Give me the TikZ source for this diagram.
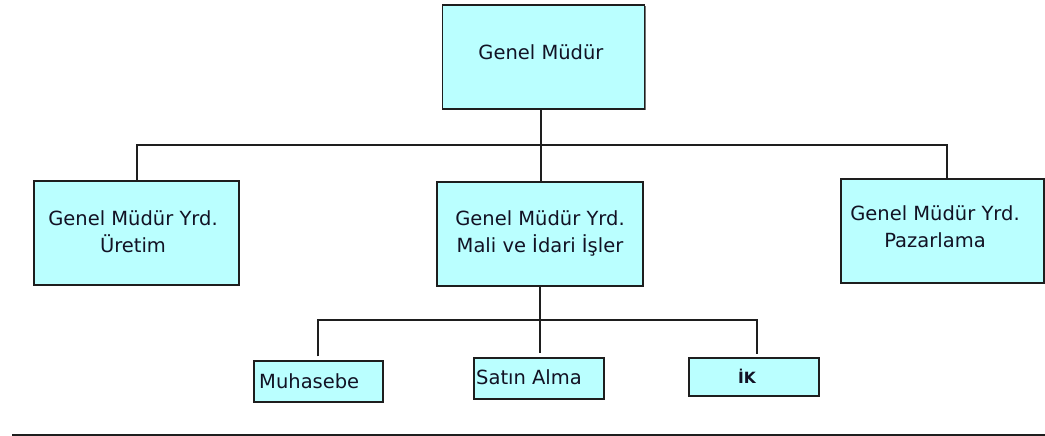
\documentclass[tikz,border=0pt]{standalone}
\usepackage{fontspec}
\setmainfont{DejaVu Sans}
\usetikzlibrary{shadows}
\definecolor{boxfill}{RGB}{186,255,255}
\definecolor{txt}{RGB}{18,18,36}
\definecolor{edge}{RGB}{30,30,30}
\tikzset{
  orgbox/.style={draw=edge, line width=1.4pt, fill=boxfill, inner sep=0pt,
    drop shadow={shadow xshift=1.3pt, shadow yshift=-1.3pt, fill=black!55, opacity=1}},
  lbl/.style={text=txt, font=\fontsize{19.5}{27}\selectfont, align=center, inner sep=0pt},
  conn/.style={draw=edge, line width=1.3pt}
}
\begin{document}
\begin{tikzpicture}[x=1pt,y=-1pt]
\useasboundingbox (0,0) rectangle (1045,436);
% boxes
\node[orgbox, minimum width=202pt, minimum height=104pt] (gm) at (543.5,57) {};
\node[orgbox, minimum width=205pt, minimum height=104pt] (gy1) at (136.5,233) {};
\node[orgbox, minimum width=206pt, minimum height=104pt] (gy2) at (540,234) {};
\node[orgbox, minimum width=203pt, minimum height=104pt] (gy3) at (942.5,231) {};
\node[orgbox, minimum width=129pt, minimum height=41pt] (mu) at (318.5,381.5) {};
\node[orgbox, minimum width=130pt, minimum height=41pt] (sa) at (539,378.5) {};
\node[orgbox, minimum width=130pt, minimum height=38pt] (ik) at (754,377) {};
% texts
\node[lbl] (gmT) at (541,52) {Genel Müdür};
\node[lbl] (gy1T) at (133,231.5) {Genel Müdür Yrd.\\Üretim};
\node[lbl] (gy2T) at (540,233.5) {Genel Müdür Yrd.\\Mali ve İdari İşler};
\node[lbl] (gy3T) at (935,226.5) {Genel Müdür Yrd.\\Pazarlama};
\node[lbl, anchor=west] (muT) at (259,381) {Muhasebe};
\node[lbl, anchor=west] (saT) at (476,377) {Satın Alma};
\node[text=txt, font=\fontsize{15.5}{18}\selectfont\bfseries, inner sep=0pt] (ikT) at (747,376) {İK};
% connectors, level 1
\coordinate (j1) at (541,145);
\coordinate (b1L) at (137,145);
\coordinate (b1R) at (947,145);
\draw[conn] (gm.south -| j1) -- (j1);
\draw[conn] (b1L |- gy1.north) -- (b1L) -- (b1R) -- (b1R |- gy3.north);
\draw[conn] (j1) -- (j1 |- gy2.north);
% connectors, level 2
\coordinate (j2) at (540,320);
\coordinate (b2L) at (318,320);
\coordinate (b2R) at (757,320);
\draw[conn] (gy2.south -| j2) -- (j2);
\draw[conn, shorten >=4pt] (j2) -- (j2 |- sa.north);
\draw[conn, shorten <=4pt, shorten >=3pt] (b2L |- mu.north) -- (b2L) -- (b2R) -- (b2R |- ik.north);
% bottom rule
\coordinate (r1) at (12,435);
\coordinate (r2) at (1045,435);
\draw[conn, line width=1.5pt] (r1) -- (r2);
\end{tikzpicture}
\end{document}
